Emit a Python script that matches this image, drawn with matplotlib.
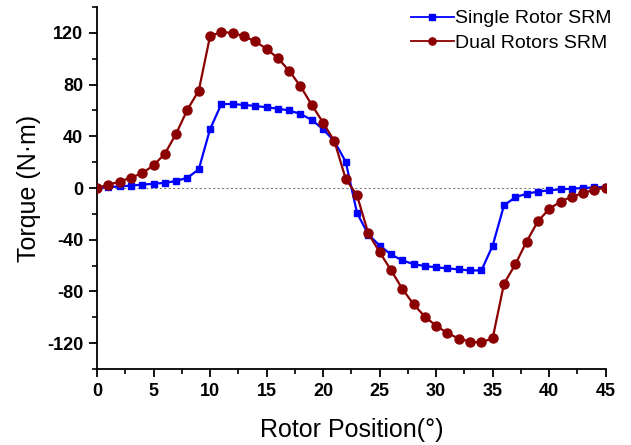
import matplotlib
matplotlib.use('Agg')
import matplotlib.pyplot as plt
import numpy as np
from matplotlib.ticker import MultipleLocator

plt.rcParams['font.family'] = ['Liberation Sans', 'DejaVu Sans']
plt.rcParams['axes.unicode_minus'] = False

# rotor position in degrees
angle = list(range(0, 46))

# torque (N*m)
single_rotor = [0, 0.5, 1.3, 1.8, 2.6, 3.3, 4.0, 5.4, 8.0, 14.4,
                45.5, 65.0, 65.0, 64.3, 63.5, 62.5, 61.4, 60.0, 57.3, 52.7,
                45.5, 36.2, 20.3, -19.3, -36.0, -44.5, -51.4, -56.0, -58.9, -60.4,
                -61.4, -62.2, -63.0, -63.8, -63.8, -44.5, -13.4, -7.2, -4.4, -2.8,
                -1.8, -1.0, -0.5, 0.0, 0.5, 0.8]
dual_rotors = [0, 2.5, 5.0, 8.0, 11.5, 17.5, 26.5, 42.0, 60.7, 75.3,
               117.5, 120.8, 120.0, 117.5, 113.4, 107.7, 100.5, 90.7, 78.7, 64.3,
               50.6, 36.2, 7.0, -5.7, -35.2, -49.6, -63.5, -77.9, -90.0, -99.5,
               -106.7, -112.3, -116.5, -119.0, -119.5, -116.2, -74.0, -59.1, -41.4, -25.7,
               -16.2, -10.5, -6.7, -3.9, -1.3, 0.3]

fig = plt.figure(figsize=(6.31, 4.45), dpi=100)
ax = fig.add_axes([0.1537, 0.171, 0.8063, 0.813])

ax.axhline(0, color='#808080', linestyle=(0, (2, 2)), linewidth=0.8, zorder=1)

ax.plot(angle, single_rotor, color='#0000FF', marker='s', markersize=5,
        linewidth=1.6, label='Single Rotor SRM', zorder=3)
ax.plot(angle, dual_rotors, color='#8B0000', marker='o', markersize=6.5,
        linewidth=1.6, label='Dual Rotors SRM', zorder=4)

ax.set_xlim(0, 45)
ax.set_ylim(-140, 140)
ax.xaxis.set_major_locator(MultipleLocator(5))
ax.xaxis.set_minor_locator(MultipleLocator(2.5))
ax.yaxis.set_major_locator(MultipleLocator(40))
ax.yaxis.set_minor_locator(MultipleLocator(20))
ax.set_yticks([-120, -80, -40, 0, 40, 80, 120])

ax.spines['top'].set_visible(False)
ax.spines['right'].set_visible(False)
ax.spines['left'].set_linewidth(1.3)
ax.spines['bottom'].set_linewidth(1.3)

ax.tick_params(which='major', direction='out', length=6, width=1.3,
               labelsize=13, pad=4)
ax.tick_params(which='minor', direction='out', length=3.5, width=1.2)
for lab in ax.get_xticklabels() + ax.get_yticklabels():
    lab.set_fontweight('bold')

ax.set_xlabel('Rotor Position(°)', fontsize=18, labelpad=13)
ax.set_ylabel('Torque (N·m)', fontsize=18, labelpad=4)

leg = ax.legend(loc='upper right', frameon=False, fontsize=14, handlelength=2.2,
                handletextpad=0.1, labelspacing=0.35, borderaxespad=0,
                bbox_to_anchor=(1.0275, 1.014), markerscale=0.8)
for line in leg.get_lines():
    line.set_linewidth(1.3)

fig.savefig('out.png', dpi=100)
